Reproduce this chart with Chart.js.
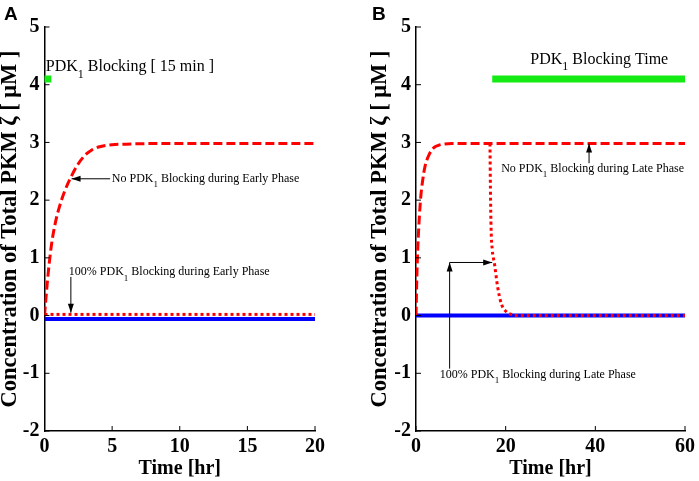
<!DOCTYPE html>
<html lang="en">
<head>
<meta charset="UTF-8">
<title>PKM zeta - PDK1 blocking</title>
<script src="https://cdn.jsdelivr.net/npm/chart.js"></script>
<style>
  body { margin: 0; background: #fff; }
  #wrap { position: relative; width: 699px; height: 481px; }
  canvas { position: absolute; top: 0; }
  #chartA { left: 0; }
  #chartB { left: 370px; }
  .tag { position: absolute; top: 3px; line-height: 19px; font: bold 19px 'Liberation Sans', Arial, sans-serif; }
</style>
</head>
<body>
<div id="wrap">
  <canvas id="chartA" width="350" height="481"></canvas>
  <canvas id="chartB" width="329" height="481"></canvas>
  <div class="tag" style="left:4px">A</div>
  <div class="tag" style="left:372px">B</div>
</div>
<script>
const serif = "'Liberation Serif', 'Times New Roman', serif";

// panel A : block during early phase (0-20 hr)
const timeA = [0, 0.25, 0.5, 0.75, 1, 1.5, 2, 2.5, 3, 3.5, 4, 5, 6, 8, 20];
const noBlockEarly = [0, 0.68, 1.2, 1.55, 1.8, 2.16, 2.42, 2.63, 2.78, 2.87, 2.92, 2.96, 2.97, 2.98, 2.98];
const flatTimeA = [0, 20];
const blockEarly = [0.02, 0.02];
const baseA = [-0.06, -0.06];
const windowA = [0, 0.25];

// panel B : block during late phase (0-60 hr)
const timeB = [0, 0.25, 0.5, 1, 1.5, 2, 3, 4, 5, 6, 8, 60];
const noBlockLate = [0, 0.85, 1.35, 2.0, 2.35, 2.58, 2.8, 2.91, 2.95, 2.97, 2.98, 2.98];
const blockLateTime = [16.5, 16.6, 16.75, 17, 17.5, 18.2, 19, 20.1, 21.2, 22, 60];
const blockLate = [2.98, 2.2, 1.5, 1.15, 0.9, 0.5, 0.21, 0.07, 0.02, 0, 0];
const flatTimeB = [0, 60];
const baseB = [0, 0];
const windowB = [17, 60];

const windowLevel = 4.1;

const pts = (xs, ys) => xs.map((x, i) => ({x: x, y: ys[i]}));

// annotation layout (data coordinates)
const notesA = {
  texts: [
    {x: 0.1, y: 4.31, size: 16, parts: [['PDK'], ['1', true], [' Blocking [ 15 min ]']]},
    {x: 4.98, y: 2.37, size: 12, parts: [['No PDK'], ['1', true], [' Blocking during Early Phase']]},
    {x: 1.8, y: 0.75, size: 12, parts: [['100% PDK'], ['1', true], [' Blocking during Early Phase']]}
  ],
  arrows: [
    {from: [4.85, 2.37], to: [2.0, 2.37]},
    {from: [1.95, 0.67], to: [1.95, 0.05]}
  ]
};
const notesB = {
  texts: [
    {x: 25.5, y: 4.44, size: 16, parts: [['PDK'], ['1', true], [' Blocking Time']]},
    {x: 19.0, y: 2.54, size: 12, parts: [['No PDK'], ['1', true], [' Blocking during Late Phase']]},
    {x: 5.3, y: -1.03, size: 12, parts: [['100% PDK'], ['1', true], [' Blocking during Late Phase']]}
  ],
  arrows: [
    {from: [38.6, 2.64], to: [38.6, 2.98]},
    {from: [7.5, -0.92], to: [7.5, 0.92]},
    {from: [7.5, 0.92], to: [17.0, 0.92]}
  ]
};

function drawRich(ctx, px, py, parts, size) {
  let cx = px;
  ctx.textBaseline = 'middle';
  ctx.textAlign = 'left';
  parts.forEach(([txt, sub]) => {
    const fs = sub ? Math.round(size * 0.72) : size;
    ctx.font = fs + 'px ' + serif;
    ctx.fillText(txt, cx, sub ? py + size * 0.5 : py);
    cx += ctx.measureText(txt).width;
  });
}

function decor(notes) {
  return {
    id: 'decor',
    afterDraw(chart) {
      const {ctx, chartArea, scales: {x, y}} = chart;
      ctx.save();
      ctx.strokeStyle = '#000';
      ctx.fillStyle = '#000';
      ctx.lineWidth = 1;
      // MATLAB style inward ticks
      ctx.beginPath();
      x.ticks.forEach(t => {
        const px = x.getPixelForValue(t.value);
        ctx.moveTo(px, chartArea.bottom);
        ctx.lineTo(px, chartArea.bottom - 5);
      });
      y.ticks.forEach(t => {
        const py = y.getPixelForValue(t.value);
        ctx.moveTo(chartArea.left, py);
        ctx.lineTo(chartArea.left + 5, py);
      });
      ctx.stroke();
      // arrows
      notes.arrows.forEach(a => {
        const x0 = x.getPixelForValue(a.from[0]), y0 = y.getPixelForValue(a.from[1]);
        const x1 = x.getPixelForValue(a.to[0]), y1 = y.getPixelForValue(a.to[1]);
        const ang = Math.atan2(y1 - y0, x1 - x0);
        ctx.beginPath();
        ctx.moveTo(x0, y0);
        ctx.lineTo(x1, y1);
        ctx.stroke();
        const L = 9, W = 3;
        ctx.beginPath();
        ctx.moveTo(x1, y1);
        ctx.lineTo(x1 - L * Math.cos(ang) + W * Math.sin(ang), y1 - L * Math.sin(ang) - W * Math.cos(ang));
        ctx.lineTo(x1 - L * Math.cos(ang) - W * Math.sin(ang), y1 - L * Math.sin(ang) + W * Math.cos(ang));
        ctx.closePath();
        ctx.fill();
      });
      notes.texts.forEach(t => {
        drawRich(ctx, x.getPixelForValue(t.x), y.getPixelForValue(t.y), t.parts, t.size);
      });
      ctx.restore();
    }
  };
}

const tickFont = {family: serif, size: 20, weight: 'bold'};
const yTitleFont = {family: serif, size: 22.5, weight: 'bold'};

function scalesFor(xMax, xStep, yWidth) {
  return {
    x: {
      type: 'linear', min: 0, max: xMax,
      ticks: {stepSize: xStep, color: '#000', padding: 4, font: tickFont, maxRotation: 0},
      grid: {display: false, drawTicks: false},
      border: {display: true, color: '#000', width: 1.5},
      title: {display: true, text: 'Time [hr]', color: '#000', padding: 0, font: tickFont},
      afterFit(s) { s.height = 50; }
    },
    y: {
      type: 'linear', min: -2, max: 5,
      ticks: {stepSize: 1, color: '#000', padding: 5, font: tickFont},
      grid: {display: false, drawTicks: false},
      border: {display: true, color: '#000', width: 1.5},
      title: {display: true, text: 'Concentration of Total PKM ζ [ μM ]', color: '#000',
              padding: {top: -3, bottom: 0}, font: yTitleFont},
      afterFit(s) { s.width = yWidth; }
    }
  };
}

function lineSet(data, color, width, dash, extra) {
  return Object.assign({
    data: data, borderColor: color, backgroundColor: color, borderWidth: width,
    borderDash: dash, pointRadius: 0, fill: false, tension: 0
  }, extra || {});
}

const red = '#ff0000', blue = '#0000ff', green = '#14eb14';

new Chart(document.getElementById('chartA'), {
  type: 'line',
  data: {
    datasets: [
      lineSet(pts(flatTimeA, blockEarly), red, 3, [3, 3], {order: 0}),
      lineSet(pts(timeA, noBlockEarly), red, 3, [9, 4], {order: 1, cubicInterpolationMode: 'monotone'}),
      lineSet(pts(flatTimeA, baseA), blue, 4, [], {order: 2}),
      lineSet(pts(windowA, [windowLevel, windowLevel]), green, 7, [], {order: 3, borderCapStyle: 'square', clip: 0})
    ]
  },
  options: {
    responsive: false, animation: false,
    layout: {padding: {top: 27, right: 35, bottom: 0, left: 0}},
    plugins: {legend: {display: false}, tooltip: {enabled: false}},
    scales: scalesFor(20, 5, 44.5)
  },
  plugins: [decor(notesA)]
});

new Chart(document.getElementById('chartB'), {
  type: 'line',
  data: {
    datasets: [
      lineSet(pts(blockLateTime, blockLate), red, 3, [3, 3], {order: 0, cubicInterpolationMode: 'monotone'}),
      lineSet(pts(timeB, noBlockLate), red, 3, [9, 4], {order: 1, cubicInterpolationMode: 'monotone'}),
      lineSet(pts(flatTimeB, baseB), blue, 4, [], {order: 2}),
      lineSet(pts(windowB, [windowLevel, windowLevel]), green, 7, [], {order: 3})
    ]
  },
  options: {
    responsive: false, animation: false,
    layout: {padding: {top: 27, right: 11, bottom: 0, left: 0}},
    plugins: {legend: {display: false}, tooltip: {enabled: false}},
    scales: scalesFor(60, 20, 46)
  },
  plugins: [decor(notesB)]
});
</script>
</body>
</html>
